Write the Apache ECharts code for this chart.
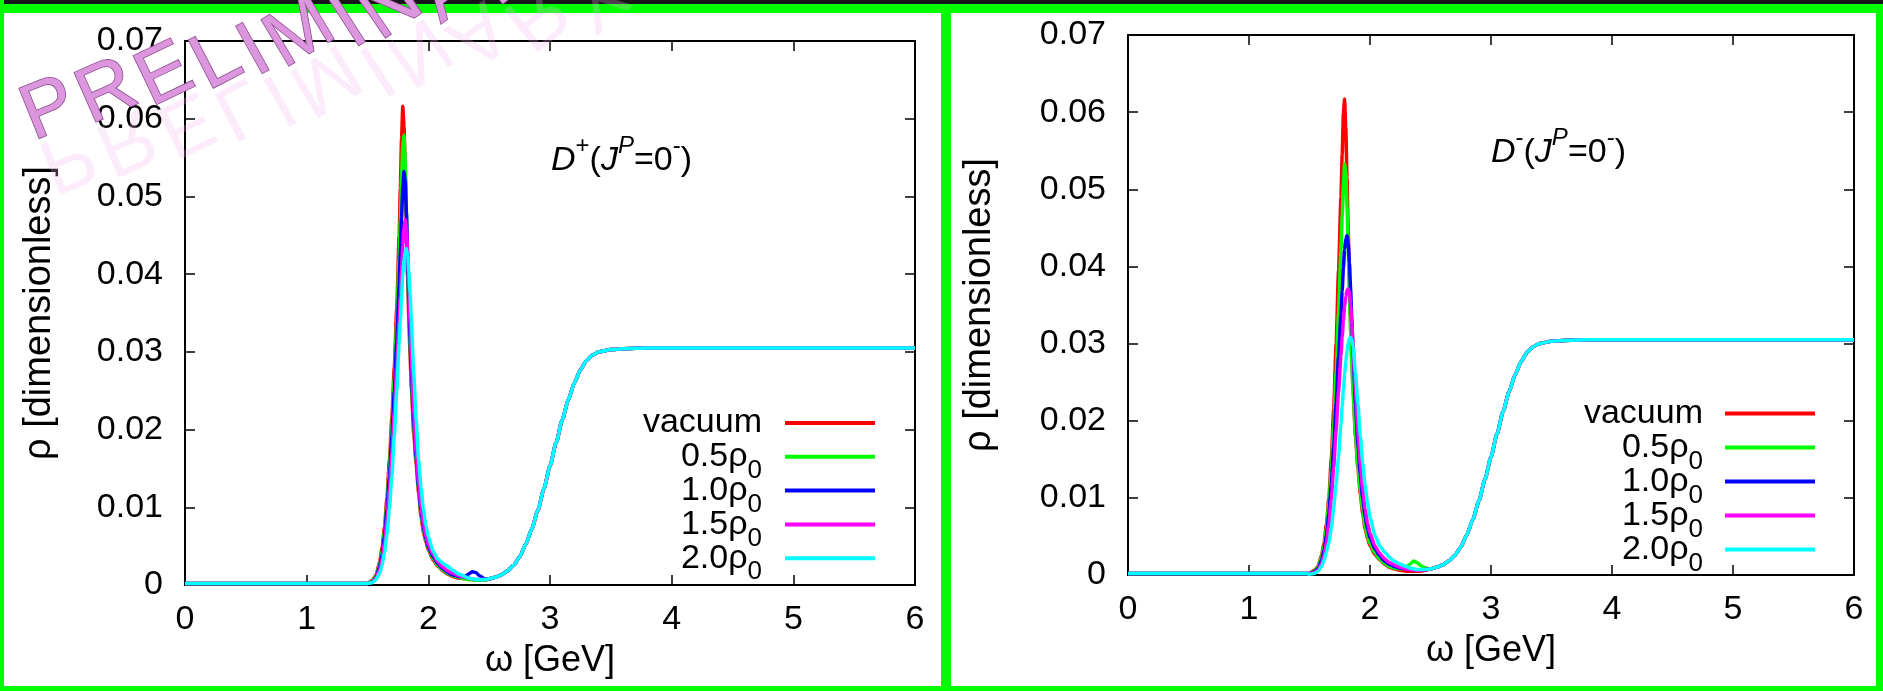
<!DOCTYPE html>
<html>
<head>
<meta charset="utf-8">
<script src="https://cdn.jsdelivr.net/npm/echarts@6/dist/echarts.min.js"></script>
<style>
  html, body { margin: 0; padding: 0; background: #fff; }
  #c { width: 1883px; height: 691px; }
</style>
</head>
<body>
<div id="c"></div>
<script>
// ω grid (GeV) for the flat region below threshold
const omegaHead = [0, 0.5, 1.0, 1.48];
const rhoHead = [0.0002, 0.0002, 0.0002, 0.0002];

// ω grid (GeV) across the D-meson peak
const omegaPeak = [1.50, 1.54, 1.57, 1.60, 1.62, 1.64, 1.66, 1.68, 1.70, 1.72, 1.74,
  1.76, 1.77, 1.78, 1.79, 1.80, 1.81, 1.82, 1.83, 1.84, 1.85, 1.86,
  1.88, 1.90, 1.92, 1.94, 1.96, 1.98, 2.00, 2.04, 2.08, 2.12, 2.16, 2.20,
  2.25, 2.30, 2.33, 2.36, 2.39, 2.42, 2.46];

// continuum shared by all densities
const omegaTail = [2.50, 2.55, 2.60, 2.65, 2.70, 2.75, 2.80, 2.85, 2.90, 2.95, 3.00, 3.05,
  3.10, 3.15, 3.20, 3.25, 3.30, 3.35, 3.40, 3.50, 3.60, 3.80, 4.00, 5.00, 6.00];
const rhoTail = [0.0008, 0.0010, 0.0013, 0.0018, 0.0025, 0.0036, 0.0052, 0.0072, 0.0096, 0.0124,
  0.0153, 0.0183, 0.0212, 0.0238, 0.0260, 0.0277, 0.0289, 0.0296, 0.0300, 0.0303, 0.0304,
  0.0305, 0.0305, 0.0305, 0.0305];

// D+ (J^P = 0-) peak region
const dPlusVacuum = [0.0002, 0.0006, 0.0013, 0.0030, 0.0048, 0.0075, 0.0113, 0.0160, 0.0215, 0.0280, 0.0355,
  0.0450, 0.0510, 0.0575, 0.0616, 0.0590, 0.0530, 0.0460, 0.0395, 0.0340, 0.0295, 0.0255,
  0.0195, 0.0155, 0.0118, 0.0088, 0.0068, 0.0055, 0.0045, 0.0032, 0.0024, 0.0018, 0.0014, 0.0011,
  0.0009, 0.0008, 0.0007, 0.0007, 0.0006, 0.0006, 0.0006];
const dPlusRho05 = [0.0002, 0.0005, 0.0012, 0.0027, 0.0044, 0.0069, 0.0105, 0.0150, 0.0203, 0.0265, 0.0335,
  0.0420, 0.0470, 0.0525, 0.0565, 0.0579, 0.0545, 0.0480, 0.0415, 0.0357, 0.0308, 0.0266,
  0.0203, 0.0160, 0.0122, 0.0092, 0.0071, 0.0057, 0.0047, 0.0034, 0.0025, 0.0019, 0.0015, 0.0012,
  0.0010, 0.0008, 0.0007, 0.0007, 0.0006, 0.0006, 0.0006];
const dPlusRho10 = [0.0002, 0.0004, 0.0010, 0.0024, 0.0040, 0.0063, 0.0097, 0.0140, 0.0190, 0.0248, 0.0312,
  0.0385, 0.0428, 0.0472, 0.0512, 0.0532, 0.0520, 0.0478, 0.0423, 0.0368, 0.0318, 0.0275,
  0.0210, 0.0165, 0.0126, 0.0096, 0.0074, 0.0059, 0.0049, 0.0036, 0.0027, 0.0021, 0.0016, 0.0013,
  0.0011, 0.0011, 0.0014, 0.0017, 0.0016, 0.0012, 0.0008];
const dPlusRho15 = [0.0002, 0.0004, 0.0009, 0.0020, 0.0034, 0.0055, 0.0085, 0.0124, 0.0170, 0.0222, 0.0280,
  0.0340, 0.0372, 0.0405, 0.0437, 0.0460, 0.0470, 0.0460, 0.0430, 0.0385, 0.0337, 0.0292,
  0.0222, 0.0172, 0.0132, 0.0101, 0.0078, 0.0062, 0.0052, 0.0039, 0.0029, 0.0023, 0.0018, 0.0015,
  0.0012, 0.0010, 0.0009, 0.0008, 0.0007, 0.0007, 0.0007];
const dPlusRho20 = [0.0002, 0.0003, 0.0007, 0.0015, 0.0025, 0.0042, 0.0065, 0.0098, 0.0140, 0.0192, 0.0250,
  0.0310, 0.0340, 0.0372, 0.0400, 0.0418, 0.0429, 0.0433, 0.0424, 0.0403, 0.0375, 0.0342,
  0.0272, 0.0212, 0.0162, 0.0125, 0.0097, 0.0077, 0.0062, 0.0043, 0.0033, 0.0028, 0.0024, 0.0019,
  0.0014, 0.0011, 0.0009, 0.0008, 0.0007, 0.0007, 0.0007];

// D- (J^P = 0-) peak region
const dMinusVacuum = [0.0002, 0.0006, 0.0011, 0.0026, 0.0042, 0.0066, 0.0100, 0.0150, 0.0215, 0.0300, 0.0395,
  0.0490, 0.0545, 0.0598, 0.0617, 0.0580, 0.0515, 0.0445, 0.0380, 0.0325, 0.0278, 0.0240,
  0.0180, 0.0138, 0.0105, 0.0079, 0.0060, 0.0047, 0.0038, 0.0027, 0.0020, 0.0014, 0.0010, 0.0008,
  0.0006, 0.0005, 0.0005, 0.0005, 0.0005, 0.0005, 0.0006];
const dMinusRho05 = [0.0002, 0.0005, 0.0010, 0.0023, 0.0038, 0.0060, 0.0092, 0.0136, 0.0192, 0.0262, 0.0340,
  0.0422, 0.0465, 0.0505, 0.0533, 0.0522, 0.0478, 0.0422, 0.0366, 0.0316, 0.0274, 0.0238,
  0.0182, 0.0142, 0.0110, 0.0084, 0.0064, 0.0050, 0.0041, 0.0029, 0.0021, 0.0015, 0.0011, 0.0009,
  0.0008, 0.0010, 0.0014, 0.0018, 0.0016, 0.0012, 0.0009];
const dMinusRho10 = [0.0002, 0.0004, 0.0008, 0.0019, 0.0032, 0.0051, 0.0079, 0.0117, 0.0165, 0.0222, 0.0283,
  0.0338, 0.0368, 0.0398, 0.0422, 0.0436, 0.0440, 0.0430, 0.0405, 0.0370, 0.0330, 0.0290,
  0.0222, 0.0170, 0.0130, 0.0099, 0.0076, 0.0059, 0.0048, 0.0034, 0.0025, 0.0018, 0.0014, 0.0011,
  0.0009, 0.0008, 0.0007, 0.0007, 0.0006, 0.0006, 0.0007];
const dMinusRho15 = [0.0002, 0.0003, 0.0006, 0.0015, 0.0026, 0.0042, 0.0066, 0.0098, 0.0140, 0.0188, 0.0238,
  0.0285, 0.0308, 0.0330, 0.0348, 0.0361, 0.0369, 0.0371, 0.0366, 0.0350, 0.0325, 0.0297,
  0.0237, 0.0185, 0.0143, 0.0110, 0.0085, 0.0067, 0.0054, 0.0038, 0.0028, 0.0021, 0.0016, 0.0013,
  0.0010, 0.0008, 0.0007, 0.0007, 0.0006, 0.0006, 0.0007];
const dMinusRho20 = [0.0001, 0.0002, 0.0005, 0.0011, 0.0019, 0.0030, 0.0042, 0.0060, 0.0087, 0.0118, 0.0153,
  0.0196, 0.0218, 0.0240, 0.0260, 0.0277, 0.0291, 0.0301, 0.0307, 0.0308, 0.0305, 0.0296,
  0.0262, 0.0222, 0.0180, 0.0145, 0.0116, 0.0093, 0.0075, 0.0052, 0.0038, 0.0030, 0.0023, 0.0018,
  0.0014, 0.0011, 0.0009, 0.0008, 0.0007, 0.0007, 0.0007];

const seriesNames = ['vacuum', '0.5ρ0', '1.0ρ0', '1.5ρ0', '2.0ρ0'];
const legendLabels = ['{n|vacuum}', '{n|0.5ρ}{s|0}', '{n|1.0ρ}{s|0}', '{n|1.5ρ}{s|0}', '{n|2.0ρ}{s|0}'];
const seriesColors = ['#ff0000', '#00ff00', '#0000ff', '#ff00ff', '#00ffff'];
const xTicks = [0, 1, 2, 3, 4, 5, 6];
const yTicks = [0, 0.01, 0.02, 0.03, 0.04, 0.05, 0.06, 0.07];

const panels = [
  { peaks: [dPlusVacuum, dPlusRho05, dPlusRho10, dPlusRho15, dPlusRho20],
    title: '{i|D}{p|+}{n|(}{i|J}{pi|P}{n|=0}{p|-}{n|)}' },
  { peaks: [dMinusVacuum, dMinusRho05, dMinusRho10, dMinusRho15, dMinusRho20],
    title: '{i|D}{p|-}{n|(}{i|J}{pi|P}{n|=0}{p|-}{n|)}' }
];

const FONT = "'Liberation Sans', Arial, Helvetica, sans-serif";

// layout of the two frames
const frames = [
  { left: 185, top: 41, width: 730, height: 544, yNameGap: 126,
    titleX: 551, titleY: 134, legendRight: 762, legendX1: 785, legendX2: 875, legendY0: 423, legendGap: 33.8 },
  { left: 1128, top: 35, width: 726, height: 540, yNameGap: 129,
    titleX: 1491, titleY: 126, legendRight: 1703, legendX1: 1725, legendX2: 1815, legendY0: 413.5, legendGap: 34 }
];

function buildPoints(peakValues) {
  const pts = [];
  omegaHead.forEach((w, i) => pts.push([w, rhoHead[i]]));
  omegaPeak.forEach((w, i) => pts.push([w, peakValues[i]]));
  omegaTail.forEach((w, i) => pts.push([w, rhoTail[i]]));
  return pts;
}

const axisLineStyle = { color: '#000', width: 2 };
const tickStyle = { show: true, inside: true, length: 10, lineStyle: { color: '#000', width: 1.5 } };
const labelFont = { color: '#000', fontSize: 34, fontFamily: FONT };
const xNameFont = { color: '#000', fontSize: 36, fontFamily: FONT };
const yNameFont = { color: '#000', fontSize: 38, fontFamily: FONT };

const grids = [], xAxes = [], yAxes = [], series = [];
frames.forEach((f, gi) => {
  grids.push({ left: f.left, top: f.top, width: f.width, height: f.height,
    containLabel: false, outerBoundsMode: 'none', show: false });
  const xBase = { gridIndex: gi, type: 'value', min: xTicks[0], max: xTicks[xTicks.length - 1], interval: 1,
    splitLine: { show: false }, axisLine: { show: true, onZero: false, lineStyle: axisLineStyle }, axisTick: tickStyle };
  xAxes.push(Object.assign({}, xBase, {
    position: 'bottom',
    axisLabel: Object.assign({ margin: 18, formatter: v => String(v) }, labelFont),
    name: 'ω [GeV]', nameLocation: 'middle', nameGap: 58, nameTextStyle: xNameFont
  }));
  xAxes.push(Object.assign({}, xBase, { position: 'top', axisLabel: { show: false } }));
  const yBase = { gridIndex: gi, type: 'value', min: yTicks[0], max: yTicks[yTicks.length - 1], interval: 0.01,
    splitLine: { show: false }, axisLine: { show: true, onZero: false, lineStyle: axisLineStyle }, axisTick: tickStyle };
  yAxes.push(Object.assign({}, yBase, {
    position: 'left',
    axisLabel: Object.assign({ margin: 22, formatter: v => (Math.abs(v) < 1e-9 ? '0' : v.toFixed(2)) }, labelFont),
    name: 'ρ [dimensionless]', nameLocation: 'middle', nameGap: f.yNameGap, nameRotate: 90, nameTextStyle: yNameFont
  }));
  yAxes.push(Object.assign({}, yBase, { position: 'right', axisLabel: { show: false } }));

  panels[gi].peaks.forEach((vals, si) => {
    series.push({
      name: seriesNames[si], type: 'line', xAxisIndex: gi * 2, yAxisIndex: gi * 2,
      data: buildPoints(vals), showSymbol: false, symbol: 'none', smooth: 0.2, smoothMonotone: 'x',
      lineStyle: { color: seriesColors[si], width: 3.5 }, itemStyle: { color: seriesColors[si] },
      emphasis: { disabled: true }, z: 2 + si
    });
  });
});

const legendRich = {
  n: { fontSize: 34, lineHeight: 34, fontFamily: FONT, fill: '#000', verticalAlign: 'top' },
  s: { fontSize: 26, lineHeight: 26, padding: [18, 0, 0, 0], fontFamily: FONT, fill: '#000', verticalAlign: 'top' }
};
const titleRich = {
  n: { fontSize: 34, lineHeight: 34, padding: [10, 0, 0, 0], fontFamily: FONT, fill: '#000', verticalAlign: 'top' },
  i: { fontSize: 34, lineHeight: 34, padding: [10, 0, 0, 0], fontFamily: FONT, fontStyle: 'italic', fill: '#000', verticalAlign: 'top' },
  p: { fontSize: 24, lineHeight: 24, fontFamily: FONT, fill: '#000', verticalAlign: 'top' },
  pi: { fontSize: 24, lineHeight: 24, fontFamily: FONT, fontStyle: 'italic', fill: '#000', verticalAlign: 'top' }
};

const graphics = [];
frames.forEach((f, gi) => {
  graphics.push({ type: 'text', x: f.titleX, y: f.titleY, z: 50,
    style: { text: panels[gi].title, rich: titleRich, align: 'left', verticalAlign: 'top' } });
  legendLabels.forEach((lab, i) => {
    const y = f.legendY0 + i * f.legendGap;
    graphics.push({ type: 'text', x: f.legendRight, y: y, z: 50,
      style: { text: lab, rich: legendRich, align: 'right', verticalAlign: 'middle' } });
    graphics.push({ type: 'line', z: 50, shape: { x1: f.legendX1, y1: y, x2: f.legendX2, y2: y },
      style: { stroke: seriesColors[i], lineWidth: 4 } });
  });
});

// page frame: dark strip on top, green borders round both panels
const frameRects = [
  { x: 0, y: 0, w: 1883, h: 4, c: '#161616' },
  { x: 0, y: 4, w: 1883, h: 9, c: '#00ff00' },
  { x: 0, y: 0, w: 4, h: 691, c: '#00ff00' },
  { x: 0, y: 686, w: 1883, h: 5, c: '#00ff00' },
  { x: 941, y: 4, w: 10, h: 687, c: '#00ff00' },
  { x: 1876, y: 4, w: 7, h: 687, c: '#00ff00' }
];
frameRects.forEach(r => graphics.push({ type: 'rect', z: 80, shape: { x: r.x, y: r.y, width: r.w, height: r.h },
  style: { fill: r.c } }));

// "PRELIMINARY" stamp: letters advance along a shallow line and tilt more and more
(function () {
  const size = 78;
  const spacing = 7;
  const pathAngle = 16 * Math.PI / 180;
  const ctx = document.createElement('canvas').getContext('2d');
  ctx.font = size + 'px ' + FONT;
  let x = 34, y = 142, tilt = 22;
  'PRELIMINARY'.split('').forEach(ch => {
    const rad = tilt * Math.PI / 180;
    graphics.push({ type: 'text', x: x, y: y + 4, rotation: rad, scaleY: -1, z: 95,
      style: { text: ch, fontSize: size, fontFamily: FONT, fill: 'rgba(238,178,238,0.26)',
        align: 'left', verticalAlign: 'bottom', y: 16 } });
    graphics.push({ type: 'text', x: x, y: y, rotation: rad, z: 100,
      style: { text: ch, fontSize: size, fontFamily: FONT, fill: '#dc96de', stroke: '#8e4f93', lineWidth: 1.6,
        align: 'left', verticalAlign: 'bottom', y: 16 } });
    const w = ctx.measureText(ch).width + spacing;
    x += w * Math.cos(pathAngle);
    y -= w * Math.sin(pathAngle);
    tilt += 1.8;
  });
})();

const chart = echarts.init(document.getElementById('c'), null, { renderer: 'canvas', width: 1883, height: 691 });
chart.setOption({
  animation: false,
  backgroundColor: '#ffffff',
  grid: grids,
  xAxis: xAxes,
  yAxis: yAxes,
  series: series,
  graphic: { elements: graphics }
});
</script>
</body>
</html>
